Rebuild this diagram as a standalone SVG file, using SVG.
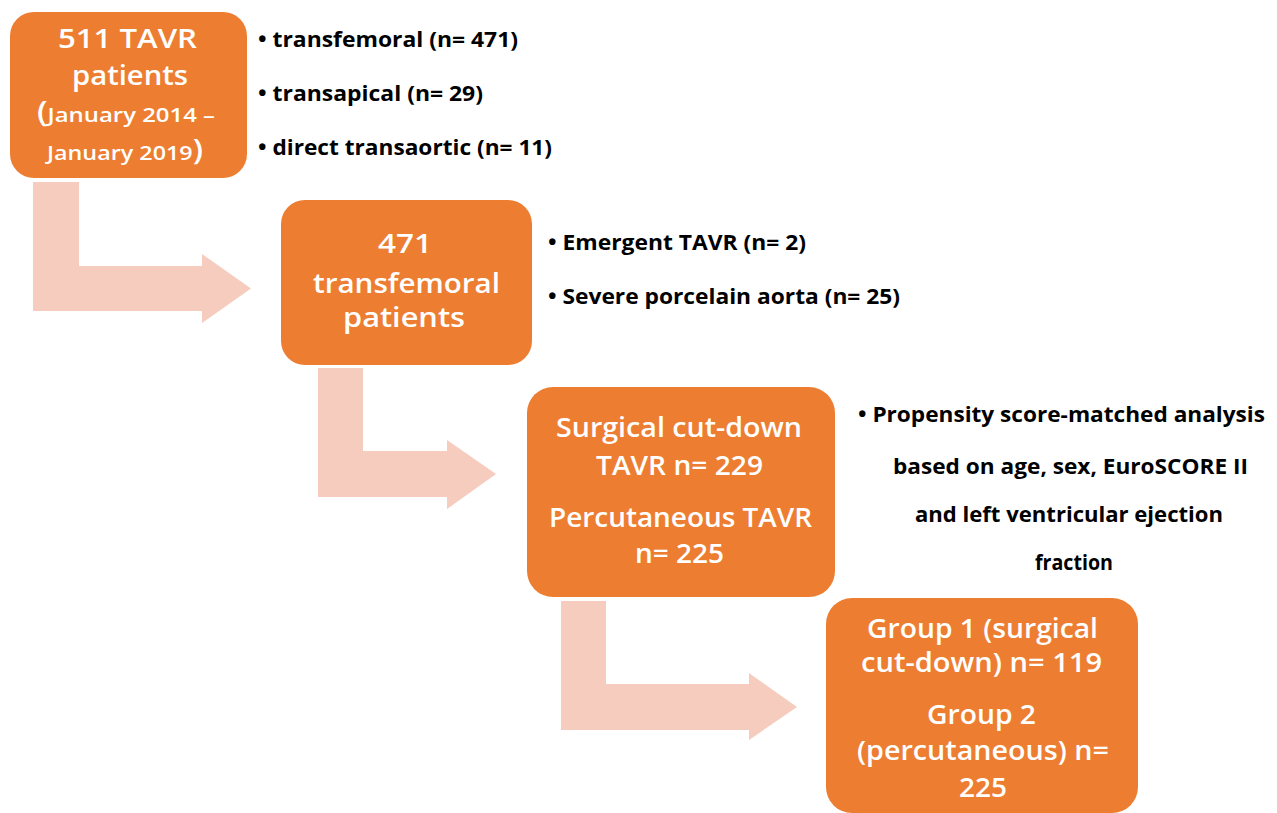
<svg xmlns="http://www.w3.org/2000/svg" width="1277" height="813" viewBox="0 0 1277 813">
<style>
.box{fill:#ED7D31;}
.arr{fill:#F5CCBE;}
.bt{font-family:"Open Sans",Lato,"Liberation Sans",sans-serif;font-weight:600;fill:#FFFFFF;text-anchor:middle;font-size:27px;}
.bs{font-size:20px;}
.bl{font-family:"Open Sans",Lato,"Liberation Sans",sans-serif;font-weight:bold;fill:#000000;font-size:20.5px;}
.bc{text-anchor:middle;}
</style>
<rect width="1277" height="813" fill="#FFFFFF"/>
<g id="connectors">
<polygon class="arr" points="33,182 79,182 79,266 202,266 202,254 251,288.5 202,323 202,311 33,311"/>
<polygon class="arr" points="318,368 363,368 363,451 447,451 447,440 496,474 447,509 447,497 318,497"/>
<polygon class="arr" points="561,601 606,601 606,684 749,684 749,673 797,707 749,740 749,730 561,730"/>
</g>
<g id="node1">
<rect class="box" x="10" y="12" width="237" height="166" rx="24"/>
<text class="bt" x="127.5" y="48" textLength="139" lengthAdjust="spacingAndGlyphs">511 TAVR</text>
<text class="bt" x="130" y="85" textLength="116" lengthAdjust="spacingAndGlyphs">patients</text>
<text class="bt bs" x="126" y="122" textLength="178" lengthAdjust="spacingAndGlyphs"><tspan font-size="28px">(</tspan>January 2014 –</text>
<text class="bt bs" x="125" y="160" textLength="156" lengthAdjust="spacingAndGlyphs">January 2019<tspan font-size="28px">)</tspan></text>
</g>
<g id="node1-notes">
<text class="bl" x="258" y="47" textLength="260" lengthAdjust="spacingAndGlyphs">• transfemoral (n= 471)</text>
<text class="bl" x="258" y="101" textLength="225" lengthAdjust="spacingAndGlyphs">• transapical (n= 29)</text>
<text class="bl" x="258" y="155" textLength="294" lengthAdjust="spacingAndGlyphs">• direct transaortic (n= 11)</text>
</g>
<g id="node2">
<rect class="box" x="281" y="200" width="251" height="165" rx="24"/>
<text class="bt" x="405" y="253" textLength="54" lengthAdjust="spacingAndGlyphs">471</text>
<text class="bt" x="406.5" y="293" textLength="187" lengthAdjust="spacingAndGlyphs">transfemoral</text>
<text class="bt" x="404" y="327" textLength="122" lengthAdjust="spacingAndGlyphs">patients</text>
</g>
<g id="node2-notes">
<text class="bl" x="548" y="250" textLength="258" lengthAdjust="spacingAndGlyphs">• Emergent TAVR (n= 2)</text>
<text class="bl" x="548" y="304" textLength="352" lengthAdjust="spacingAndGlyphs">• Severe porcelain aorta (n= 25)</text>
</g>
<g id="node3">
<rect class="box" x="527" y="387" width="308" height="210" rx="26"/>
<text class="bt" x="679" y="437" textLength="246" lengthAdjust="spacingAndGlyphs">Surgical cut-down</text>
<text class="bt" x="679.5" y="475" textLength="167" lengthAdjust="spacingAndGlyphs">TAVR n= 229</text>
<text class="bt" x="680.5" y="527" textLength="263" lengthAdjust="spacingAndGlyphs">Percutaneous TAVR</text>
<text class="bt" x="679.5" y="563" textLength="89" lengthAdjust="spacingAndGlyphs">n= 225</text>
</g>
<g id="node3-notes">
<text class="bl" x="858" y="422" textLength="407" lengthAdjust="spacingAndGlyphs">• Propensity score-matched analysis</text>
<text class="bl bc" x="1070.5" y="474" textLength="355" lengthAdjust="spacingAndGlyphs">based on age, sex, EuroSCORE II</text>
<text class="bl bc" x="1069" y="522" textLength="308" lengthAdjust="spacingAndGlyphs">and left ventricular ejection</text>
<text class="bl bc" x="1074" y="570" textLength="78" lengthAdjust="spacingAndGlyphs">fraction</text>
</g>
<g id="node4">
<rect class="box" x="826" y="598" width="312" height="215" rx="26"/>
<text class="bt" x="982.5" y="638" textLength="231" lengthAdjust="spacingAndGlyphs">Group 1 (surgical</text>
<text class="bt" x="981.5" y="672" textLength="241" lengthAdjust="spacingAndGlyphs">cut-down) n= 119</text>
<text class="bt" x="981.5" y="724" textLength="109" lengthAdjust="spacingAndGlyphs">Group 2</text>
<text class="bt" x="983" y="760" textLength="252" lengthAdjust="spacingAndGlyphs">(percutaneous) n=</text>
<text class="bt" x="983" y="797" textLength="48" lengthAdjust="spacingAndGlyphs">225</text>
</g>
</svg>
